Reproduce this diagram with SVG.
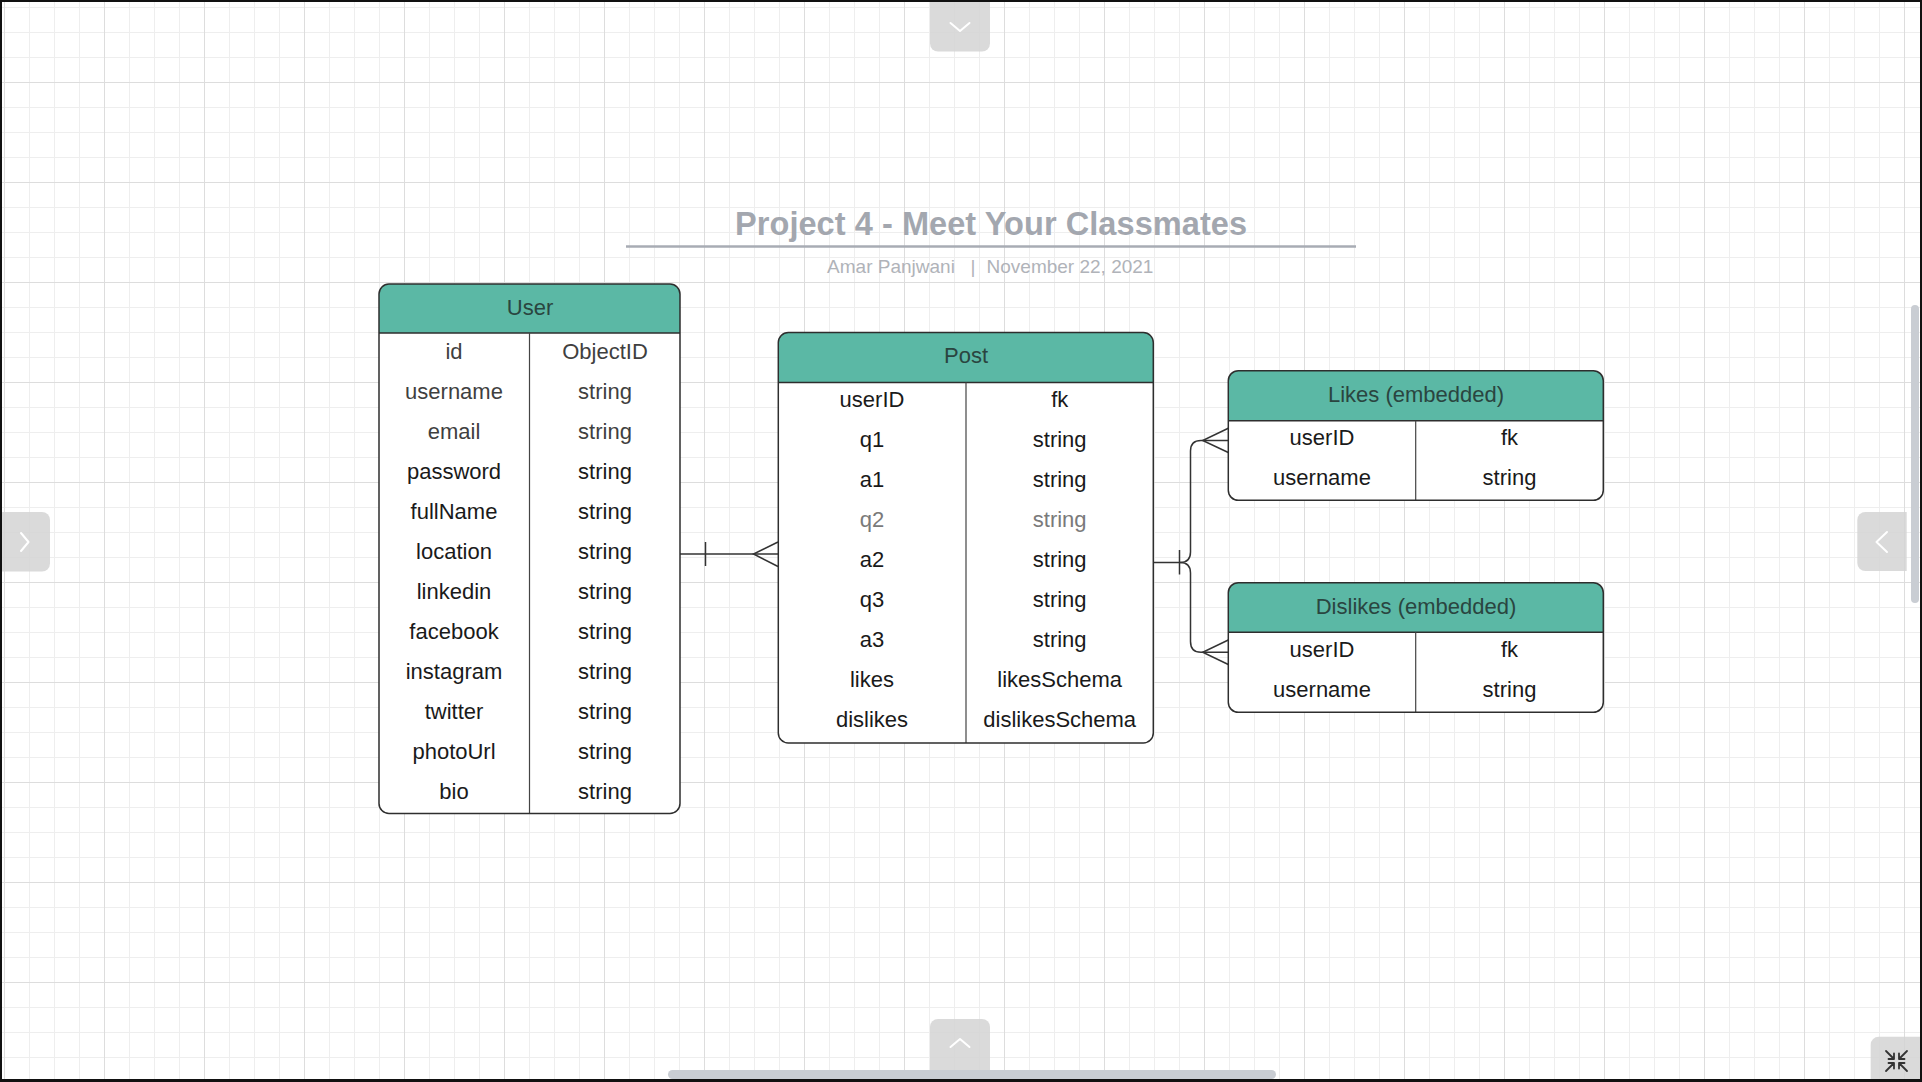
<svg xmlns="http://www.w3.org/2000/svg" width="1922" height="1082" viewBox="0 0 1922 1082">
<defs>
<pattern id="minor" patternUnits="userSpaceOnUse" x="4" y="7" width="25" height="25">
<path d="M0 0.5H25M0.5 0V25" stroke="#eeeeee" stroke-width="1" fill="none"/>
</pattern>
<pattern id="major" patternUnits="userSpaceOnUse" x="4" y="82" width="100" height="100">
<path d="M0 0.5H100M0.5 0V100" stroke="#dddddd" stroke-width="1" fill="none"/>
</pattern>
<style>
.hd{fill:#5bb8a5}
.body{fill:#fff}
.frame{fill:none;stroke:#2e2e2e;stroke-width:1.5}
.sep{stroke:#2e2e2e;stroke-width:1.5}
.div{stroke:#444;stroke-width:1.2}
text{font-family:"Liberation Sans",Arial,sans-serif}
.ht{font-size:22px;fill:#2a4540;text-anchor:middle}
.rt{font-size:22px;fill:#1a1a1a;text-anchor:middle}
.rg{fill:#3f3f3f}
.rl{fill:#7a7a7a}
.sub{font-size:19px;fill:#b0b3b9;text-anchor:middle}
.cn{fill:none;stroke:#333;stroke-width:1.5}
.btn{fill:#d4d4d4;fill-opacity:0.85}
.chev{fill:none;stroke:#fff;stroke-width:2;stroke-linecap:round;stroke-linejoin:round}
</style>
</defs>
<rect width="1922" height="1082" fill="#fff"/>
<rect width="1922" height="1082" fill="url(#minor)"/>
<rect width="1922" height="1082" fill="url(#major)"/>

<g id="title">
<text x="991" y="235" font-weight="bold" font-size="32.5" fill="#a3a7af" text-anchor="middle" textLength="512" lengthAdjust="spacing">Project 4 - Meet Your Classmates</text>
<line x1="626" y1="246.5" x2="1356" y2="246.5" stroke="#a8acb4" stroke-width="2.5"/>
<text class="sub" x="891" y="272.5">Amar Panjwani</text>
<text class="sub" x="973" y="272.5">|</text>
<text class="sub" x="1070" y="272.5">November 22, 2021</text>
</g>

<g id="connectors">
<path class="cn" d="M680 554H778"/>
<path class="cn" d="M705.5 542V566"/>
<path class="cn" d="M778 542L753.5 554L778 566.5"/>
<path class="cn" d="M1153.3 562.5H1180Q1190.5 562.5 1190.5 552V451Q1190.5 440.5 1201 440.5H1228.3"/>
<path class="cn" d="M1180 562.5Q1190.5 562.5 1190.5 573V641.5Q1190.5 652.3 1201 652.3H1228.3"/>
<path class="cn" d="M1179.5 550V574.5"/>
<path class="cn" d="M1228.3 428.3L1202.7 440.5L1228.3 452.5"/>
<path class="cn" d="M1228.3 640L1202.7 652.3L1228.3 664.5"/>
</g>

<g id="node-user">
<rect class="body" x="379" y="284" width="301" height="529.5" rx="10"/>
<path class="hd" d="M379 333V294A10 10 0 0 1 389 284H670A10 10 0 0 1 680 294V333Z"/>
<line class="sep" x1="379" y1="333" x2="680" y2="333"/>
<line class="div" x1="529.5" y1="333" x2="529.5" y2="813.5"/>
<rect class="frame" x="379" y="284" width="301" height="529.5" rx="10"/>
<text class="ht" x="530" y="315">User</text>
<text class="rt rg" x="454" y="358.5">id</text><text class="rt rg" x="605" y="358.5">ObjectID</text>
<text class="rt rg" x="454" y="398.5">username</text><text class="rt rg" x="605" y="398.5">string</text>
<text class="rt rg" x="454" y="438.5">email</text><text class="rt rg" x="605" y="438.5">string</text>
<text class="rt" x="454" y="478.5">password</text><text class="rt" x="605" y="478.5">string</text>
<text class="rt" x="454" y="518.5">fullName</text><text class="rt" x="605" y="518.5">string</text>
<text class="rt" x="454" y="558.5">location</text><text class="rt" x="605" y="558.5">string</text>
<text class="rt" x="454" y="598.5">linkedin</text><text class="rt" x="605" y="598.5">string</text>
<text class="rt" x="454" y="638.5">facebook</text><text class="rt" x="605" y="638.5">string</text>
<text class="rt" x="454" y="678.5">instagram</text><text class="rt" x="605" y="678.5">string</text>
<text class="rt" x="454" y="718.5">twitter</text><text class="rt" x="605" y="718.5">string</text>
<text class="rt" x="454" y="758.5">photoUrl</text><text class="rt" x="605" y="758.5">string</text>
<text class="rt" x="454" y="798.5">bio</text><text class="rt" x="605" y="798.5">string</text>
</g>

<g id="node-post">
<rect class="body" x="778.3" y="332.5" width="375" height="410.5" rx="10"/>
<path class="hd" d="M778.3 382.5V342.5A10 10 0 0 1 788.3 332.5H1143.3A10 10 0 0 1 1153.3 342.5V382.5Z"/>
<line class="sep" x1="778.3" y1="382.5" x2="1153.3" y2="382.5"/>
<line class="div" x1="966" y1="382.5" x2="966" y2="743"/>
<rect class="frame" x="778.3" y="332.5" width="375" height="410.5" rx="10"/>
<text class="ht" x="966" y="363">Post</text>
<text class="rt" x="872" y="406.5">userID</text><text class="rt" x="1059.7" y="406.5">fk</text>
<text class="rt" x="872" y="446.5">q1</text><text class="rt" x="1059.7" y="446.5">string</text>
<text class="rt" x="872" y="486.5">a1</text><text class="rt" x="1059.7" y="486.5">string</text>
<text class="rt rl" x="872" y="526.5">q2</text><text class="rt rl" x="1059.7" y="526.5">string</text>
<text class="rt" x="872" y="566.5">a2</text><text class="rt" x="1059.7" y="566.5">string</text>
<text class="rt" x="872" y="606.5">q3</text><text class="rt" x="1059.7" y="606.5">string</text>
<text class="rt" x="872" y="646.5">a3</text><text class="rt" x="1059.7" y="646.5">string</text>
<text class="rt" x="872" y="686.5">likes</text><text class="rt" x="1059.7" y="686.5">likesSchema</text>
<text class="rt" x="872" y="726.5">dislikes</text><text class="rt" x="1059.7" y="726.5">dislikesSchema</text>
</g>

<g id="node-likes">
<rect class="body" x="1228.3" y="370.7" width="375" height="129.6" rx="10"/>
<path class="hd" d="M1228.3 420.7V380.7A10 10 0 0 1 1238.3 370.7H1593.3A10 10 0 0 1 1603.3 380.7V420.7Z"/>
<line class="sep" x1="1228.3" y1="420.7" x2="1603.3" y2="420.7"/>
<line class="div" x1="1415.7" y1="420.7" x2="1415.7" y2="500.3"/>
<rect class="frame" x="1228.3" y="370.7" width="375" height="129.6" rx="10"/>
<text class="ht" x="1416" y="401.5">Likes (embedded)</text>
<text class="rt" x="1322" y="445">userID</text><text class="rt" x="1509.5" y="445">fk</text>
<text class="rt" x="1322" y="485">username</text><text class="rt" x="1509.5" y="485">string</text>
</g>

<g id="node-dislikes">
<rect class="body" x="1228.3" y="582.7" width="375" height="129.6" rx="10"/>
<path class="hd" d="M1228.3 632.3V592.7A10 10 0 0 1 1238.3 582.7H1593.3A10 10 0 0 1 1603.3 592.7V632.3Z"/>
<line class="sep" x1="1228.3" y1="632.3" x2="1603.3" y2="632.3"/>
<line class="div" x1="1415.7" y1="632.3" x2="1415.7" y2="712.3"/>
<rect class="frame" x="1228.3" y="582.7" width="375" height="129.6" rx="10"/>
<text class="ht" x="1416" y="613.5">Dislikes (embedded)</text>
<text class="rt" x="1322" y="657">userID</text><text class="rt" x="1509.5" y="657">fk</text>
<text class="rt" x="1322" y="697">username</text><text class="rt" x="1509.5" y="697">string</text>
</g>

<g id="ui">
<rect class="btn" x="930" y="-10" width="60" height="61.5" rx="8"/>
<path class="chev" d="M950.5 23L960 31L969.5 23"/>
<rect class="btn" x="930" y="1019" width="60" height="60" rx="8"/>
<path class="chev" d="M950.5 1047L960 1039L969.5 1047"/>
<rect class="btn" x="-10" y="512" width="60" height="59.5" rx="8"/>
<path class="chev" d="M21 533L28.5 542L21 551"/>
<path class="btn" d="M1906.7 512H1865.3A8 8 0 0 0 1857.3 520V563A8 8 0 0 0 1865.3 571H1906.7Z"/>
<path class="chev" d="M1887 532L1876.5 542L1887 552"/>
<rect x="1911" y="305" width="8" height="298" rx="4" fill="#c9cdd3"/>
<rect x="668" y="1070" width="608" height="9" rx="4.5" fill="#c9cdd3"/>
<path class="btn" d="M1922 1036.7H1878.7A8 8 0 0 0 1870.7 1044.7V1082H1922Z"/>
<g fill="none" stroke="#333" stroke-width="1.8" stroke-linecap="round" stroke-linejoin="round">
<path d="M1886 1051L1894 1059M1894 1053.5V1059H1888.5"/>
<path d="M1907 1051L1899 1059M1899 1053.5V1059H1904.5"/>
<path d="M1886 1071L1894 1063M1894 1068.5V1063H1888.5"/>
<path d="M1907 1071L1899 1063M1899 1068.5V1063H1904.5"/>
</g>
<rect x="1" y="1" width="1920" height="1080" fill="none" stroke="#111" stroke-width="2"/>
<rect x="0" y="1079" width="1922" height="3" fill="#111"/>
</g>
</svg>
